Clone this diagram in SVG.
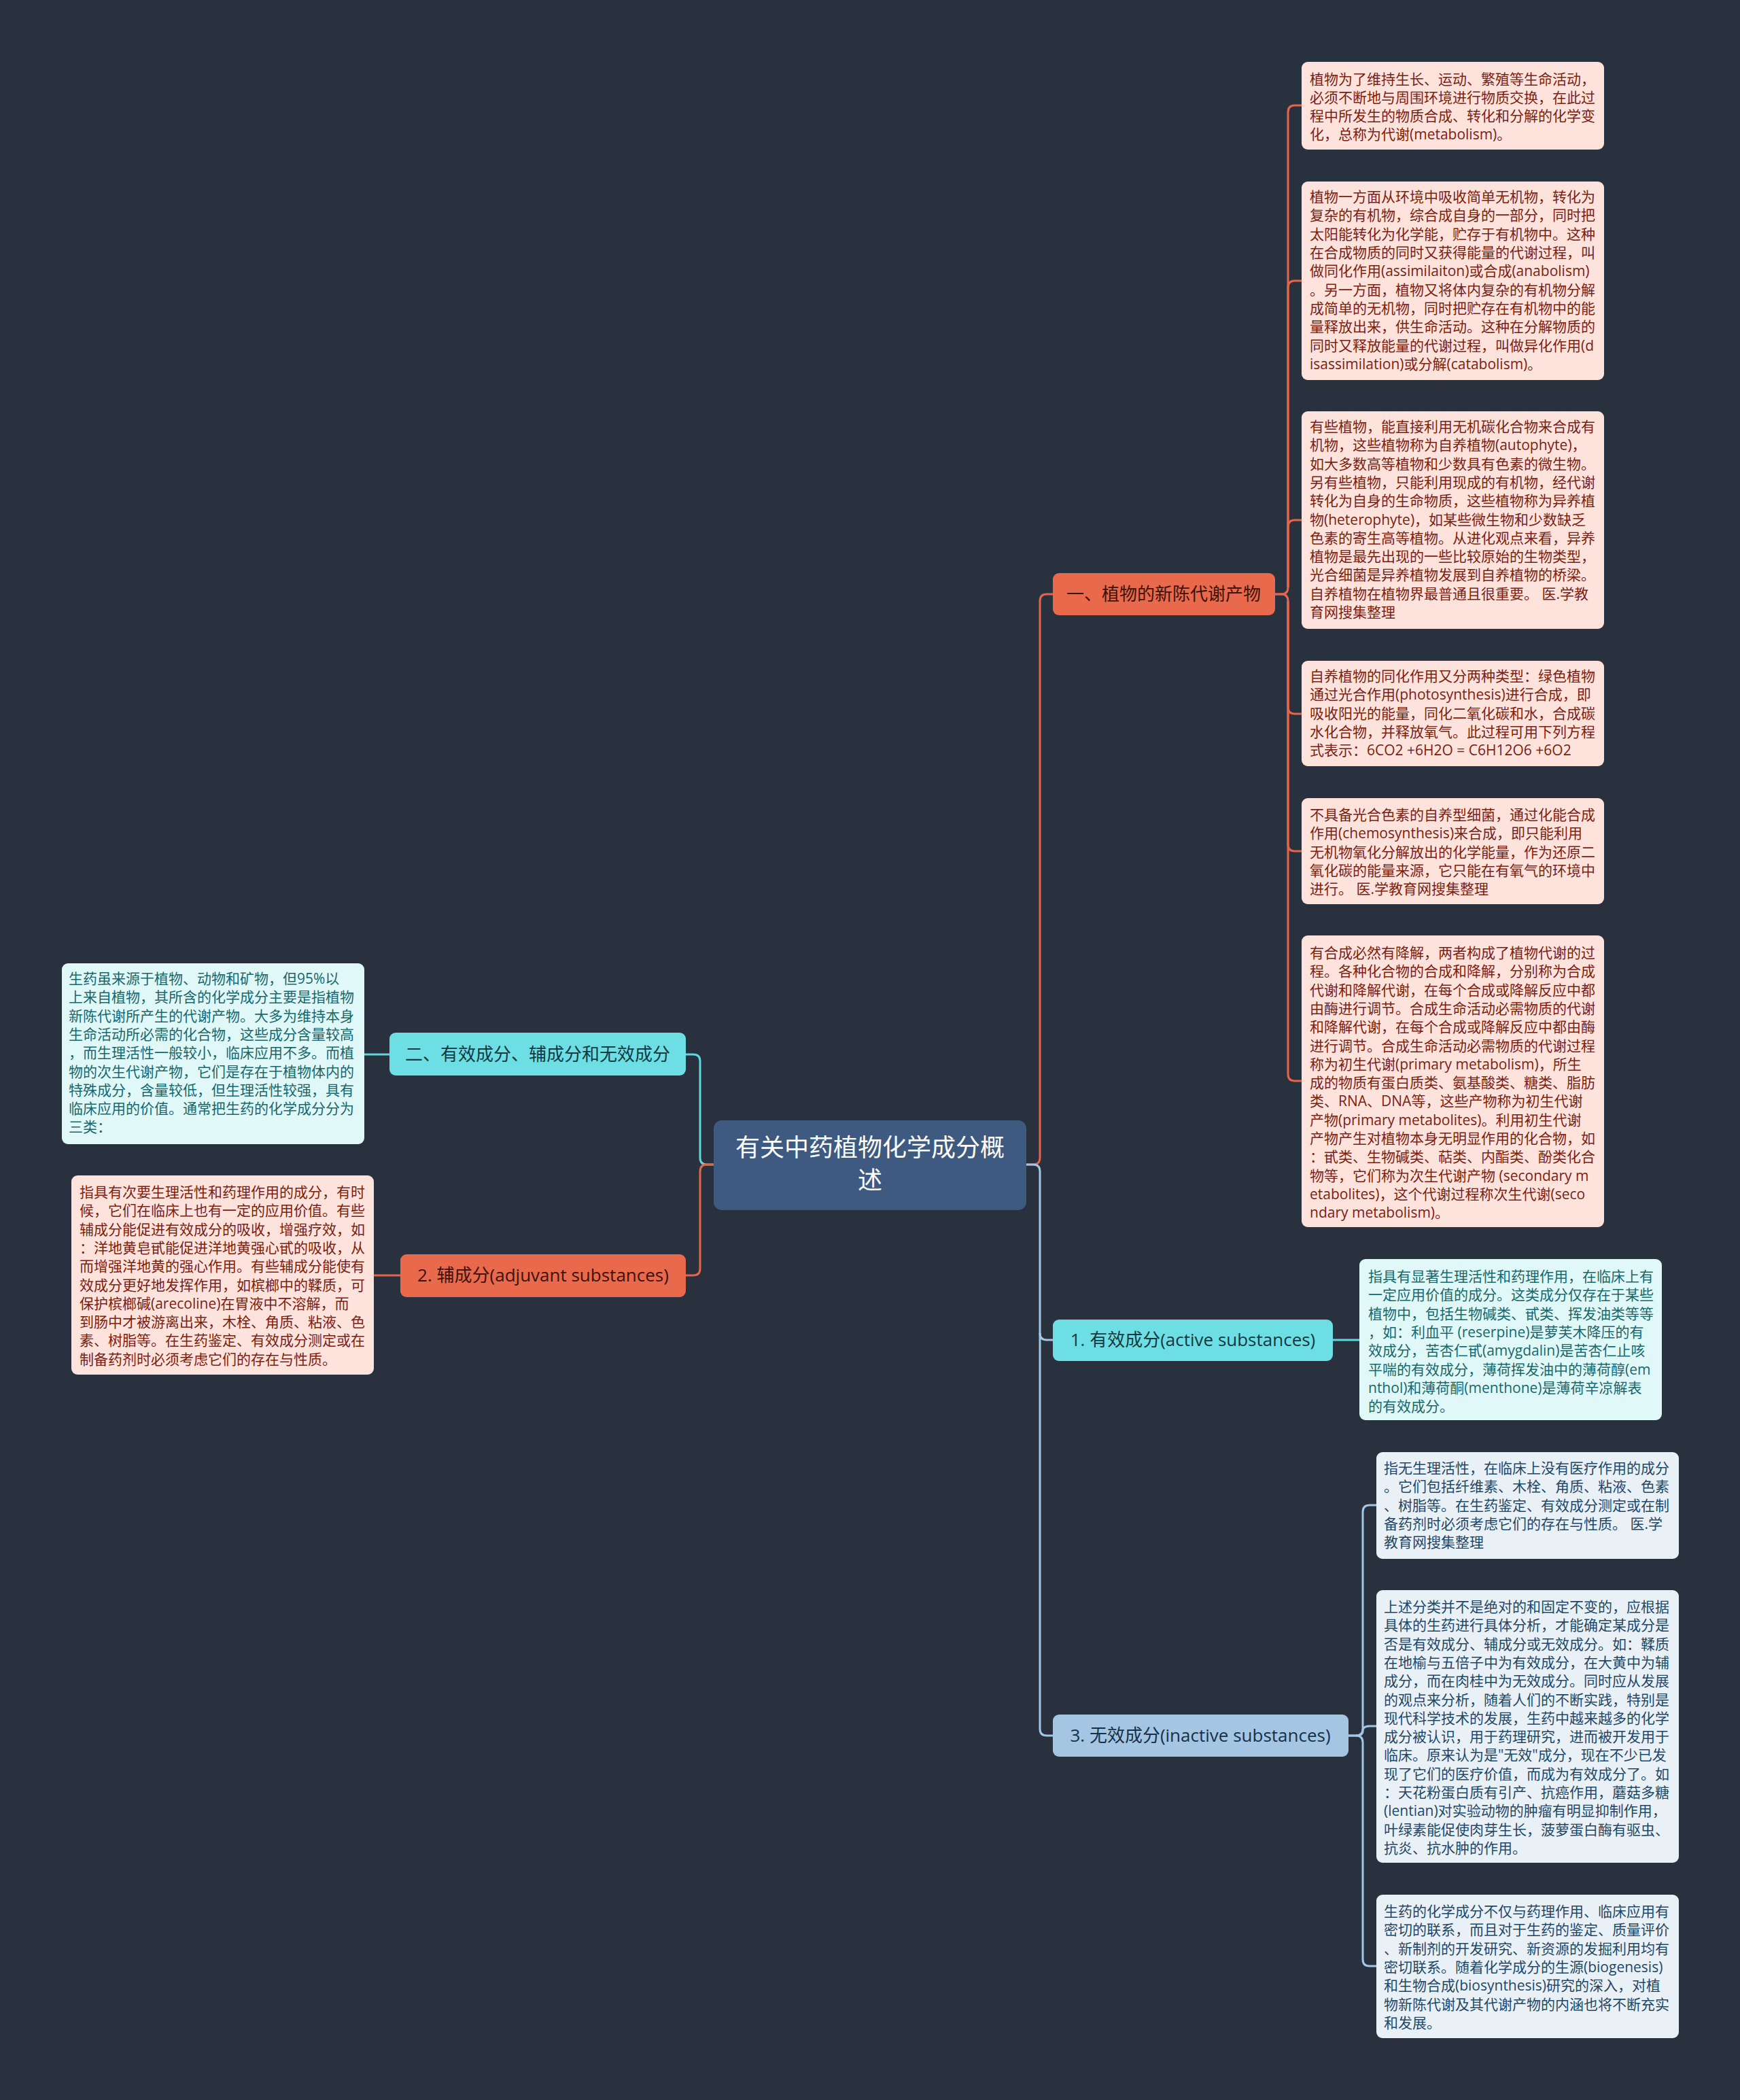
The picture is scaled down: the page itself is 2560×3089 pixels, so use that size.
<svg xmlns="http://www.w3.org/2000/svg" width="2560" height="3089" viewBox="0 0 2560 3089">
<style>
text{font-family:"Open Sans","Noto Sans CJK SC",sans-serif}
.leaf{font-size:21px}
.red rect{fill:#fde3dc}
.red text{fill:#7b2112}
.cyan rect{fill:#e1f8f9}
.cyan text{fill:#17686c}
.blue rect{fill:#e9f1f7}
.blue text{fill:#1f4868}
.br{font-size:26px;text-anchor:middle}
.c{fill:none;stroke-width:3}
</style>
<rect width="2560" height="3089" fill="#29313f"/>
<g id="connectors">
<path class="c" stroke="#e3664c" d="M1510 1713 H1520 Q1530 1713 1530 1703 V884 Q1530 874 1540 874 H1549"/>
<path class="c" stroke="#a2c6e3" d="M1510 1713 H1520 Q1530 1713 1530 1723 V1961 Q1530 1971 1540 1971 H1549"/>
<path class="c" stroke="#a2c6e3" d="M1530 1961 V2543 Q1530 2553 1540 2553 H1549"/>
<path class="c" stroke="#5fd6db" d="M1050 1713 H1040 Q1030 1713 1030 1703 V1561 Q1030 1551 1020 1551 H1009"/>
<path class="c" stroke="#e3664c" d="M1050 1713 H1040 Q1030 1713 1030 1723 V1866 Q1030 1876 1020 1876 H1009"/>
<path class="c" stroke="#5fd6db" d="M573 1551 H536"/>
<path class="c" stroke="#e3664c" d="M589 1876 H550"/>
<path class="c" stroke="#5fd6db" d="M1961 1971 H2000"/>
<path class="c" stroke="#e3664c" d="M1876 874 H1885 Q1895 874 1895 864 V165 Q1895 155 1905 155 H1915"/>
<path class="c" stroke="#e3664c" d="M1895 864 V423 Q1895 413 1905 413 H1915"/>
<path class="c" stroke="#e3664c" d="M1895 864 V775 Q1895 765 1905 765 H1915"/>
<path class="c" stroke="#e3664c" d="M1876 874 H1885 Q1895 874 1895 884 V1040 Q1895 1050 1905 1050 H1915"/>
<path class="c" stroke="#e3664c" d="M1895 884 V1242 Q1895 1252 1905 1252 H1915"/>
<path class="c" stroke="#e3664c" d="M1895 884 V1580 Q1895 1590 1905 1590 H1915"/>
<path class="c" stroke="#a2c6e3" d="M1984 2553 H1995 Q2005 2553 2005 2543 V2224 Q2005 2214 2015 2214 H2025"/>
<path class="c" stroke="#a2c6e3" d="M1995 2553 Q2005 2553 2005 2546 Q2005 2539 2015 2539 H2025"/>
<path class="c" stroke="#a2c6e3" d="M1984 2553 H1995 Q2005 2553 2005 2563 V2882 Q2005 2892 2015 2892 H2025"/>
</g>
<g id="root">
<rect x="1050" y="1648" width="460" height="132" rx="12" fill="#3e5a80"/>
<text x="1280" y="1701" font-size="36" fill="#ffffff" text-anchor="middle">有关中药植物化学成分概</text>
<text x="1280" y="1749" font-size="36" fill="#ffffff" text-anchor="middle">述</text>
</g>
<g id="b1" class="red">
<rect x="1549" y="843" width="327" height="62" rx="9" style="fill:#e8694c"/>
<text class="br" x="1712" y="883" style="fill:#3d1209">一、植物的新陈代谢产物</text>
</g>
<g id="b2" class="cyan">
<rect x="573" y="1519" width="436" height="63" rx="9" style="fill:#6ddfe4"/>
<text class="br" x="791" y="1560" style="fill:#113a40">二、有效成分、辅成分和无效成分</text>
</g>
<g id="b3" class="red">
<rect x="589" y="1845" width="420" height="63" rx="9" style="fill:#e8694c"/>
<text class="br" x="799" y="1885" style="fill:#3d1209">2. 辅成分(adjuvant substances)</text>
</g>
<g id="b4" class="cyan">
<rect x="1549" y="1941" width="412" height="61" rx="9" style="fill:#6ddfe4"/>
<text class="br" x="1755" y="1980" style="fill:#113a40">1. 有效成分(active substances)</text>
</g>
<g id="b5" class="blue">
<rect x="1549" y="2522" width="435" height="62" rx="9" style="fill:#a4c6e2"/>
<text class="br" x="1766" y="2562" style="fill:#14304a">3. 无效成分(inactive substances)</text>
</g>
<g id="l1" class="red leaf">
<rect x="1915" y="91" width="445" height="129" rx="9"/>
<text x="1927" y="124">植物为了维持生长、运动、繁殖等生命活动，</text>
<text x="1927" y="151">必须不断地与周围环境进行物质交换，在此过</text>
<text x="1927" y="178">程中所发生的物质合成、转化和分解的化学变</text>
<text x="1927" y="205">化，总称为代谢(metabolism)。</text>
</g>
<g id="l2" class="red leaf">
<rect x="1915" y="267" width="445" height="292" rx="9"/>
<text x="1927" y="297">植物一方面从环境中吸收简单无机物，转化为</text>
<text x="1927" y="324">复杂的有机物，综合成自身的一部分，同时把</text>
<text x="1927" y="352">太阳能转化为化学能，贮存于有机物中。这种</text>
<text x="1927" y="379">在合成物质的同时又获得能量的代谢过程，叫</text>
<text x="1927" y="406">做同化作用(assimilaiton)或合成(anabolism)</text>
<text x="1927" y="434">。另一方面，植物又将体内复杂的有机物分解</text>
<text x="1927" y="461">成简单的无机物，同时把贮存在有机物中的能</text>
<text x="1927" y="488">量释放出来，供生命活动。这种在分解物质的</text>
<text x="1927" y="516">同时又释放能量的代谢过程，叫做异化作用(d</text>
<text x="1927" y="543">isassimilation)或分解(catabolism)。</text>
</g>
<g id="l3" class="red leaf">
<rect x="1915" y="605" width="445" height="320" rx="9"/>
<text x="1927" y="635">有些植物，能直接利用无机碳化合物来合成有</text>
<text x="1927" y="662">机物，这些植物称为自养植物(autophyte)，</text>
<text x="1927" y="690">如大多数高等植物和少数具有色素的微生物。</text>
<text x="1927" y="717">另有些植物，只能利用现成的有机物，经代谢</text>
<text x="1927" y="744">转化为自身的生命物质，这些植物称为异养植</text>
<text x="1927" y="772">物(heterophyte)，如某些微生物和少数缺乏</text>
<text x="1927" y="799">色素的寄生高等植物。从进化观点来看，异养</text>
<text x="1927" y="826">植物是最先出现的一些比较原始的生物类型，</text>
<text x="1927" y="853">光合细菌是异养植物发展到自养植物的桥梁。</text>
<text x="1927" y="881">自养植物在植物界最普通且很重要。 医.学教</text>
<text x="1927" y="908">育网搜集整理</text>
</g>
<g id="l4" class="red leaf">
<rect x="1915" y="972" width="445" height="155" rx="9"/>
<text x="1927" y="1002">自养植物的同化作用又分两种类型：绿色植物</text>
<text x="1927" y="1029">通过光合作用(photosynthesis)进行合成，即</text>
<text x="1927" y="1057">吸收阳光的能量，同化二氧化碳和水，合成碳</text>
<text x="1927" y="1084">水化合物，并释放氧气。此过程可用下列方程</text>
<text x="1927" y="1111">式表示：6CO2 +6H2O = C6H12O6 +6O2</text>
</g>
<g id="l5" class="red leaf">
<rect x="1915" y="1174" width="445" height="156" rx="9"/>
<text x="1927" y="1206">不具备光合色素的自养型细菌，通过化能合成</text>
<text x="1927" y="1233">作用(chemosynthesis)来合成，即只能利用</text>
<text x="1927" y="1261">无机物氧化分解放出的化学能量，作为还原二</text>
<text x="1927" y="1288">氧化碳的能量来源，它只能在有氧气的环境中</text>
<text x="1927" y="1315">进行。 医.学教育网搜集整理</text>
</g>
<g id="l6" class="red leaf">
<rect x="1915" y="1376" width="445" height="429" rx="9"/>
<text x="1927" y="1409">有合成必然有降解，两者构成了植物代谢的过</text>
<text x="1927" y="1436">程。各种化合物的合成和降解，分别称为合成</text>
<text x="1927" y="1464">代谢和降解代谢，在每个合成或降解反应中都</text>
<text x="1927" y="1491">由酶进行调节。合成生命活动必需物质的代谢</text>
<text x="1927" y="1518">和降解代谢，在每个合成或降解反应中都由酶</text>
<text x="1927" y="1546">进行调节。合成生命活动必需物质的代谢过程</text>
<text x="1927" y="1573">称为初生代谢(primary metabolism)，所生</text>
<text x="1927" y="1600">成的物质有蛋白质类、氨基酸类、糖类、脂肪</text>
<text x="1927" y="1627">类、RNA、DNA等，这些产物称为初生代谢</text>
<text x="1927" y="1655">产物(primary metabolites)。利用初生代谢</text>
<text x="1927" y="1682">产物产生对植物本身无明显作用的化合物，如</text>
<text x="1927" y="1709">：甙类、生物碱类、萜类、内酯类、酚类化合</text>
<text x="1927" y="1737">物等，它们称为次生代谢产物 (secondary m</text>
<text x="1927" y="1764">etabolites)，这个代谢过程称次生代谢(seco</text>
<text x="1927" y="1791">ndary metabolism)。</text>
</g>
<g id="l7" class="cyan leaf">
<rect x="91" y="1417" width="445" height="266" rx="9"/>
<text x="101" y="1447">生药虽来源于植物、动物和矿物，但95%以</text>
<text x="101" y="1474">上来自植物，其所含的化学成分主要是指植物</text>
<text x="101" y="1502">新陈代谢所产生的代谢产物。大多为维持本身</text>
<text x="101" y="1529">生命活动所必需的化合物，这些成分含量较高</text>
<text x="101" y="1556">，而生理活性一般较小，临床应用不多。而植</text>
<text x="101" y="1584">物的次生代谢产物，它们是存在于植物体内的</text>
<text x="101" y="1611">特殊成分，含量较低，但生理活性较强，具有</text>
<text x="101" y="1638">临床应用的价值。通常把生药的化学成分分为</text>
<text x="101" y="1665">三类：</text>
</g>
<g id="l8" class="red leaf">
<rect x="105" y="1729" width="445" height="293" rx="9"/>
<text x="117" y="1761">指具有次要生理活性和药理作用的成分，有时</text>
<text x="117" y="1788">候，它们在临床上也有一定的应用价值。有些</text>
<text x="117" y="1816">辅成分能促进有效成分的吸收，增强疗效，如</text>
<text x="117" y="1843">：洋地黄皂甙能促进洋地黄强心甙的吸收，从</text>
<text x="117" y="1870">而增强洋地黄的强心作用。有些辅成分能使有</text>
<text x="117" y="1898">效成分更好地发挥作用，如槟榔中的鞣质，可</text>
<text x="117" y="1925">保护槟榔碱(arecoline)在胃液中不溶解，而</text>
<text x="117" y="1952">到肠中才被游离出来，木栓、角质、粘液、色</text>
<text x="117" y="1979">素、树脂等。在生药鉴定、有效成分测定或在</text>
<text x="117" y="2007">制备药剂时必须考虑它们的存在与性质。</text>
</g>
<g id="l9" class="cyan leaf">
<rect x="2000" y="1852" width="445" height="237" rx="9"/>
<text x="2013" y="1885">指具有显著生理活性和药理作用，在临床上有</text>
<text x="2013" y="1912">一定应用价值的成分。这类成分仅存在于某些</text>
<text x="2013" y="1940">植物中，包括生物碱类、甙类、挥发油类等等</text>
<text x="2013" y="1967">，如：利血平 (reserpine)是萝芙木降压的有</text>
<text x="2013" y="1994">效成分，苦杏仁甙(amygdalin)是苦杏仁止咳</text>
<text x="2013" y="2022">平喘的有效成分，薄荷挥发油中的薄荷醇(em</text>
<text x="2013" y="2049">nthol)和薄荷酮(menthone)是薄荷辛凉解表</text>
<text x="2013" y="2076">的有效成分。</text>
</g>
<g id="l10" class="blue leaf">
<rect x="2025" y="2136" width="445" height="157" rx="9"/>
<text x="2036" y="2167">指无生理活性，在临床上没有医疗作用的成分</text>
<text x="2036" y="2194">。它们包括纤维素、木栓、角质、粘液、色素</text>
<text x="2036" y="2222">、树脂等。在生药鉴定、有效成分测定或在制</text>
<text x="2036" y="2249">备药剂时必须考虑它们的存在与性质。 医.学</text>
<text x="2036" y="2276">教育网搜集整理</text>
</g>
<g id="l11" class="blue leaf">
<rect x="2025" y="2339" width="445" height="401" rx="9"/>
<text x="2036" y="2371">上述分类并不是绝对的和固定不变的，应根据</text>
<text x="2036" y="2398">具体的生药进行具体分析，才能确定某成分是</text>
<text x="2036" y="2426">否是有效成分、辅成分或无效成分。如：鞣质</text>
<text x="2036" y="2453">在地榆与五倍子中为有效成分，在大黄中为辅</text>
<text x="2036" y="2480">成分，而在肉桂中为无效成分。同时应从发展</text>
<text x="2036" y="2508">的观点来分析，随着人们的不断实践，特别是</text>
<text x="2036" y="2535">现代科学技术的发展，生药中越来越多的化学</text>
<text x="2036" y="2562">成分被认识，用于药理研究，进而被开发用于</text>
<text x="2036" y="2589">临床。原来认为是"无效"成分，现在不少已发</text>
<text x="2036" y="2617">现了它们的医疗价值，而成为有效成分了。如</text>
<text x="2036" y="2644">：天花粉蛋白质有引产、抗癌作用，蘑菇多糖</text>
<text x="2036" y="2671">(lentian)对实验动物的肿瘤有明显抑制作用，</text>
<text x="2036" y="2699">叶绿素能促使肉芽生长，菠萝蛋白酶有驱虫、</text>
<text x="2036" y="2726">抗炎、抗水肿的作用。</text>
</g>
<g id="l12" class="blue leaf">
<rect x="2025" y="2787" width="445" height="211" rx="9"/>
<text x="2036" y="2819">生药的化学成分不仅与药理作用、临床应用有</text>
<text x="2036" y="2846">密切的联系，而且对于生药的鉴定、质量评价</text>
<text x="2036" y="2874">、新制剂的开发研究、新资源的发掘利用均有</text>
<text x="2036" y="2901">密切联系。随着化学成分的生源(biogenesis)</text>
<text x="2036" y="2928">和生物合成(biosynthesis)研究的深入，对植</text>
<text x="2036" y="2956">物新陈代谢及其代谢产物的内涵也将不断充实</text>
<text x="2036" y="2983">和发展。</text>
</g>
</svg>
